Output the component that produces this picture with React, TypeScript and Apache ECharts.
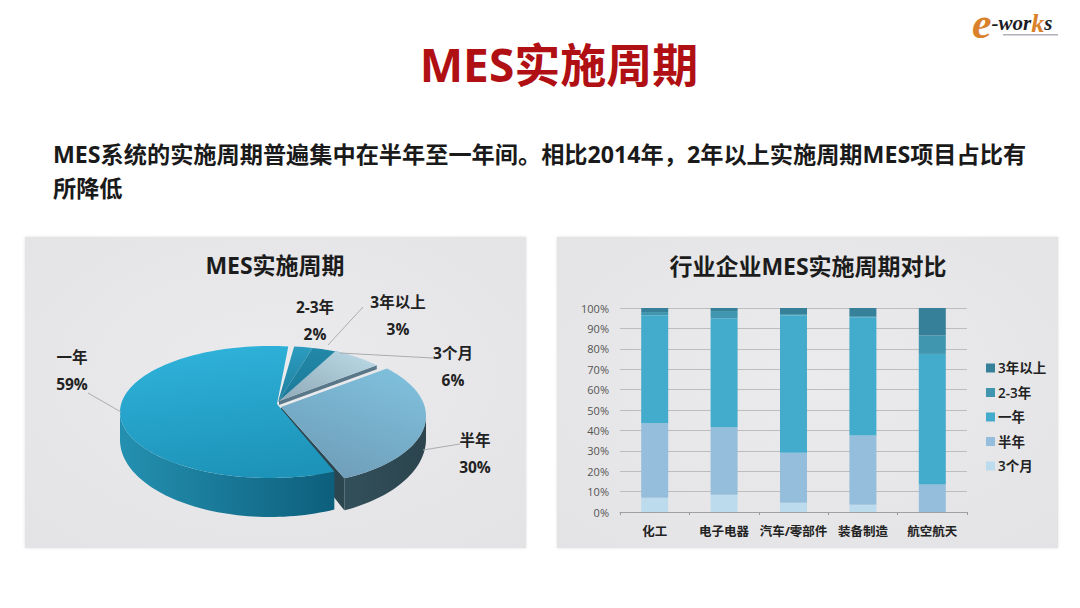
import React, { useEffect, useRef } from "react";
import * as echarts from "echarts";

const FONT = '"Open Sans","Noto Sans CJK SC",sans-serif';

const mainTitle = "MES实施周期";
const subtitleLines = [
  "MES系统的实施周期普遍集中在半年至一年间。相比2014年，2年以上实施周期MES项目占比有",
  "所降低",
];
const pieTitle = "MES实施周期";
const barTitle = "行业企业MES实施周期对比";

// Pie, clockwise from the top
const pieNames = ["2-3年", "3年以上", "3个月", "半年", "一年"];
const pieValues = [2, 3, 6, 30, 59];
const pieStartAngle = 7;

// Stacked bars
const categories = ["化工", "电子电器", "汽车/零部件", "装备制造", "航空航天"];
const s3Months = [7, 8.5, 4.5, 3.5, 0];
const sHalfYear = [36.5, 33, 24.5, 34, 13.5];
const sOneYear = [53, 53.5, 67.5, 58, 64];
const s2to3Years = [1.5, 3.5, 0.5, 0.5, 9];
const s3Plus = [2, 1.5, 3, 4, 13.5];
const legendOrder = ["3年以上", "2-3年", "一年", "半年", "3个月"];

// Styling per pie slice, same order as pieNames
const lin = (x: number, y: number, x2: number, y2: number, a: string, b: string) => ({
  type: "linear", x, y, x2, y2,
  colorStops: [{ offset: 0, color: a }, { offset: 1, color: b }],
});
const sliceLook = [
  { cx: 276, cy: 411, rx: 149, ry: 65, depth: 28, extra: 10, face: lin(0, 0, 0, 1, "#2c9cc0", "#1d7f9e"), wall: "#1a7390", cut: "#186d89" },
  { cx: 276, cy: 411, rx: 149, ry: 65, depth: 28, extra: 10, face: lin(0, 0, 0, 1, "#2288a8", "#1c7a99"), wall: "#17708c", cut: "#156680" },
  { cx: 278, cy: 410, rx: 136, ry: 65, depth: 28, extra: 10, face: lin(1, 0, 0, 1, "#bcdbe7", "#8fa9b8"), wall: "#5d7f90", cut: "#58788a" },
  { cx: 283, cy: 416, rx: 143, ry: 69, depth: 23, extra: 10, face: lin(0.8, 0, 0.3, 1, "#7fc0dc", "#6f9db8"), wall: lin(0, 0, 1, 0, "#33505a", "#2b444e"), cut: "#2c4650" },
  { cx: 270, cy: 412, rx: 150, ry: 66, depth: 28, extra: 11, face: lin(0.3, 0, 0.5, 1, "#2fb2da", "#1d93b9"), wall: lin(0, 0, 1, 0, "#2490b0", "#0d5f7c"), cut: "#176f8c" },
];
const apexes = [
  [278, 402], [278, 402], [279, 401], [281, 407], [277, 404],
];
const labelLook = [
  { x: 315, y: 307, line: null },
  { x: 398, y: 302, line: [[363, 307], [328, 345]] },
  { x: 453, y: 353, line: [[433, 358], [340, 353]] },
  { x: 475, y: 440, line: [[460, 444], [423, 450]] },
  { x: 72, y: 357, line: [[88, 393], [121, 412]] },
];

const rad = (d: number) => (d * Math.PI) / 180;

function renderSlice(params: any, api: any) {
  const i = params.dataIndex;
  const total = pieValues.reduce((a, b) => a + b, 0);
  const before = pieValues.slice(0, i).reduce((a, b) => a + b, 0);
  const a0 = pieStartAngle + (before / total) * 360;
  const a1 = a0 + (api.value(0) / total) * 360;
  const L = sliceLook[i];
  const pt = (t: number) => [
    L.cx + L.rx * Math.sin(rad(t)),
    L.cy - L.ry * Math.cos(rad(t)),
  ];
  const low = (t: number) => {
    const p = pt(t);
    return [p[0], p[1] + L.depth + L.extra * Math.max(0, -Math.cos(rad(t)))];
  };
  const sweep = (s: number, e: number, f: (t: number) => number[]) => {
    const out: number[][] = [];
    const n = Math.max(2, Math.ceil(Math.abs(e - s) / 2));
    for (let k = 0; k <= n; k++) out.push(f(s + ((e - s) * k) / n));
    return out;
  };
  const apex = apexes[i];
  const children: any[] = [];
  // near side of the rim, where the slice's wall can be seen
  const ws = Math.max(a0, 90);
  const we = Math.min(a1, 270);
  if (we > ws) {
    children.push({
      type: "polygon",
      shape: { points: [...sweep(ws, we, pt), ...sweep(we, ws, low)] },
      style: { fill: L.wall },
    });
  }
  // cut face along the slice's trailing edge
  if (a1 > 100 && a1 < 200) {
    const r = pt(a1);
    const b = low(a1);
    children.push({
      type: "polygon",
      shape: { points: [apex, r, b, [apex[0], apex[1] + L.depth]] },
      style: { fill: L.cut },
    });
  }
  if (i === 2) {
    const r = pt(a1);
    children.push({
      type: "polygon",
      shape: { points: [apex, r, [r[0], r[1] + 4], [apex[0], apex[1] + 4]] },
      style: { fill: L.cut },
    });
  }
  children.push({
    type: "polygon",
    shape: { points: [apex, ...sweep(a0, a1, pt)] },
    style: { fill: L.face },
  });
  const lab = labelLook[i];
  if (lab.line) {
    children.push({
      type: "polyline",
      shape: { points: lab.line },
      style: { stroke: "#a9adb0", lineWidth: 1, fill: "none" },
    });
  }
  children.push({
    type: "text",
    style: {
      x: lab.x, y: lab.y, text: pieNames[i], fill: "#222",
      font: `700 15.5px ${FONT}`, align: "center", verticalAlign: "middle",
    },
  });
  children.push({
    type: "text",
    style: {
      x: lab.x, y: lab.y + 27, text: `${api.value(0)}%`, fill: "#222",
      font: `700 15.5px ${FONT}`, align: "center", verticalAlign: "middle",
    },
  });
  return { type: "group", children };
}

const panel = (x: number) => ({
  type: "rect",
  z: -1,
  shape: { x, y: 237, width: 501, height: 311 },
  style: {
    fill: { type: "radial", x: 0.5, y: 0.45, r: 0.75,
      colorStops: [{ offset: 0, color: "#ebebed" }, { offset: 1, color: "#e3e3e5" }] },
    shadowBlur: 3, shadowColor: "rgba(0,0,0,0.12)",
  },
});

const barSeries = (name: string, data: number[], color: string) => ({
  name, type: "bar", stack: "total", data, barWidth: 27,
  itemStyle: { color },
});

export default function App() {
  const ref = useRef<HTMLDivElement>(null);
  useEffect(() => {
    const chart = echarts.init(ref.current!, null, { renderer: "svg" });
    chart.setOption({
      animation: false,
      backgroundColor: "#ffffff",
      graphic: [
        panel(25),
        panel(557),
        { type: "text", z: 5, style: { x: 559, y: 64, text: mainTitle, fill: "#b00f14", font: `700 46px ${FONT}`, align: "center", verticalAlign: "middle" } },
        { type: "text", z: 5, style: { x: 53, y: 154, text: subtitleLines[0], fill: "#1a1a1a", font: `700 23.2px ${FONT}`, align: "left", verticalAlign: "middle" } },
        { type: "text", z: 5, style: { x: 53, y: 188, text: subtitleLines[1], fill: "#1a1a1a", font: `700 23.2px ${FONT}`, align: "left", verticalAlign: "middle" } },
        { type: "text", z: 5, style: { x: 275, y: 265, text: pieTitle, fill: "#1c1c1c", font: `700 23px ${FONT}`, align: "center", verticalAlign: "middle" } },
        { type: "text", z: 5, style: { x: 808, y: 266, text: barTitle, fill: "#1c1c1c", font: `700 23px ${FONT}`, align: "center", verticalAlign: "middle" } },
        {
          type: "text", z: 5,
          style: {
            x: 972, y: 23,
            text: "{e|e}{w|-wor}{k|k}{w|s}",
            verticalAlign: "middle",
            rich: {
              e: { fill: "#d9822b", font: `italic 700 44px "Liberation Serif",serif` },
              w: { fill: "#1d1d26", font: `italic 700 21px "Liberation Serif",serif` },
              k: { fill: "#d9822b", font: `italic 700 26px "Liberation Serif",serif` },
            },
          },
        },
        { type: "rect", z: 5, shape: { x: 1003, y: 34, width: 55, height: 1.5 }, style: { fill: "#b0b0ba" } },
      ],
      grid: { left: 620, top: 308, width: 347, height: 204, containLabel: false },
      xAxis: {
        type: "category", data: categories,
        axisTick: { show: true, alignWithLabel: false, length: 3, lineStyle: { color: "#9a9a9a" } },
        axisLine: { lineStyle: { color: "#a0a0a0" } },
        axisLabel: { color: "#222", fontWeight: 700, fontSize: 12.5, fontFamily: FONT, margin: 13, interval: 0 },
      },
      yAxis: {
        type: "value", min: 0, max: 100, interval: 10,
        axisLine: { show: false }, axisTick: { show: false },
        axisLabel: { color: "#555", fontSize: 11, fontFamily: FONT, margin: 11, formatter: "{value}%" },
        splitLine: { lineStyle: { color: "#bdbdbd", width: 1 } },
      },
      legend: {
        orient: "vertical", left: 986, top: 359, padding: 0, itemWidth: 9, itemHeight: 9, itemGap: 6.5, icon: "rect",
        data: legendOrder,
        textStyle: { color: "#222", fontSize: 13.5, fontWeight: 600, fontFamily: FONT, lineHeight: 18, padding: [0, 0, 0, -2] },
      },
      series: [
        barSeries("3个月", s3Months, "#bcdcee"),
        barSeries("半年", sHalfYear, "#94bedb"),
        barSeries("一年", sOneYear, "#43abcb"),
        barSeries("2-3年", s2to3Years, "#3f96ae"),
        barSeries("3年以上", s3Plus, "#37809a"),
        {
          type: "custom", coordinateSystem: "none", renderItem: renderSlice,
          data: pieValues.map((v) => [v]), silent: true,
        },
      ],
    });
    return () => chart.dispose();
  }, []);
  return <div ref={ref} style={{ position: "fixed", left: 0, top: 0, width: 1080, height: 608 }} />;
}
